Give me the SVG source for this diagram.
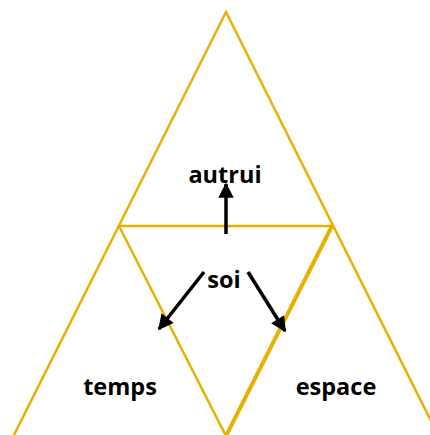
<svg xmlns="http://www.w3.org/2000/svg" width="430" height="435" viewBox="0 0 430 435">
<style>
.ln{stroke:#E8B000;stroke-width:2.5;fill:none;stroke-linecap:round}
.thick{stroke-width:4}
.ar{stroke:#000;stroke-width:3.5;fill:none}
.lb{font-family:"Open Sans","Liberation Sans",Arial,sans-serif;font-weight:bold;font-size:23.5px;fill:#000;text-anchor:middle}
</style>
<defs>
<marker id="ah" viewBox="0 0 10 10" refX="9" refY="5" markerWidth="4.6" markerHeight="4.4" orient="auto" markerUnits="strokeWidth">
<path d="M0,0 L10,5 L0,10 Z" fill="#000"/>
</marker>
</defs>
<rect width="430" height="435" fill="#fff"/>
<g id="triangles">
<path class="ln" d="M14,435 L226,12 L438,435"/>
<line class="ln" x1="119" y1="226" x2="332" y2="226"/>
<line class="ln" x1="119" y1="226" x2="226" y2="436"/>
<line class="ln thick" x1="332" y1="226" x2="226" y2="436"/>
</g>
<g id="connectors">
<line class="ar" x1="226" y1="234" x2="226" y2="184" marker-end="url(#ah)"/>
<line class="ar" x1="204" y1="272" x2="159" y2="329" marker-end="url(#ah)"/>
<line class="ar" x1="248" y1="272" x2="285" y2="331" marker-end="url(#ah)"/>
</g>
<g id="autrui"><text class="lb" x="225" y="183">autrui</text></g>
<g id="soi"><text class="lb" x="224" y="288">soi</text></g>
<g id="temps"><text class="lb" x="120" y="395">temps</text></g>
<g id="espace"><text class="lb" x="336" y="395">espace</text></g>
</svg>
